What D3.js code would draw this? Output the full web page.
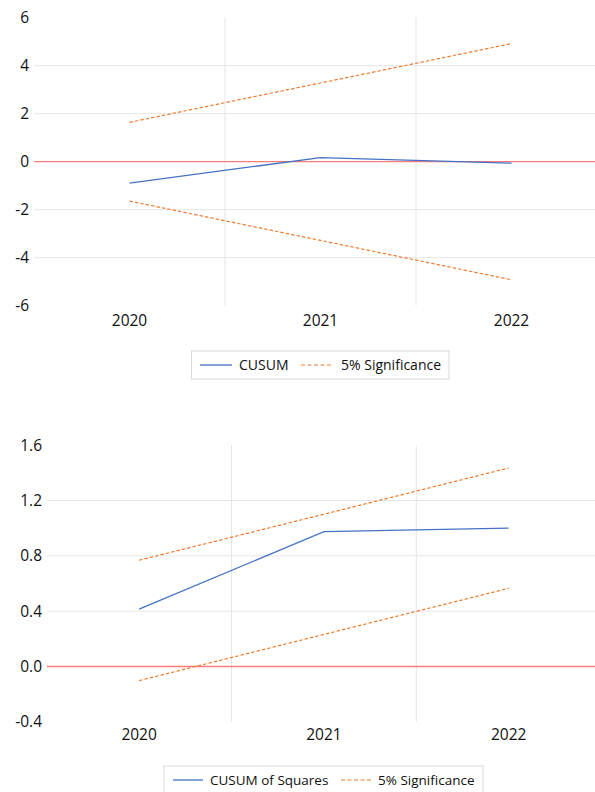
<!DOCTYPE html>
<html>
<head>
<meta charset="utf-8">
<script src="https://cdn.jsdelivr.net/npm/d3@7"></script>
<style>
  html, body { margin: 0; padding: 0; background: #fff; }
  svg { display: block; font-family: "Open Sans", Lato, sans-serif; }
</style>
</head>
<body>
<svg id="chart" width="595" height="792"></svg>
<script>
// ---- data ----
const years = ["2020", "2021", "2022"];
const cusum = [-0.89, 0.17, -0.06];
const cusumUpper = [1.64, 3.28, 4.92];
const cusumLower = [-1.64, -3.28, -4.92];
const cusumTicks = [-6, -4, -2, 0, 2, 4, 6];

const cusumSq = [0.415, 0.975, 1.0];
const sqUpper = [0.768, 1.101, 1.435];
const sqLower = [-0.102, 0.232, 0.565];
const sqTicks = [-0.4, 0.0, 0.4, 0.8, 1.2, 1.6];

const seriesNames1 = ["CUSUM", "5% Significance"];
const seriesNames2 = ["CUSUM of Squares", "5% Significance"];

const BLUE = "#4472C4", ORANGE = "#ED7D31", RED = "#FF7B7B", GRID = "#E6E6E6", TXT = "#111";

const svg = d3.select("#chart");
const hyphen = f => d => f(d).replace("\u2212", "-");

function panel(cfg) {
  const g = svg.append("g");
  const x = d3.scaleBand().domain(years).range([cfg.left, cfg.right]).padding(0);
  const y = d3.scaleLinear().domain(cfg.domain).range([cfg.bottom, cfg.top]);

  // horizontal gridlines (inner ticks only)
  g.append("g").selectAll("line")
    .data(cfg.ticks.filter(t => t !== cfg.domain[0] && t !== cfg.domain[1] && t !== 0))
    .join("line")
    .attr("x1", cfg.left).attr("x2", 595)
    .attr("y1", d => y(d)).attr("y2", d => y(d))
    .attr("stroke", GRID).attr("stroke-width", 1);

  // vertical gridlines between categories
  g.append("g").selectAll("line")
    .data(years.slice(1))
    .join("line")
    .attr("x1", d => x(d)).attr("x2", d => x(d))
    .attr("y1", cfg.top).attr("y2", cfg.bottom)
    .attr("stroke", GRID).attr("stroke-width", 1);

  // y axis labels
  const yAxis = d3.axisLeft(y).tickValues(cfg.ticks).tickFormat(hyphen(cfg.fmt)).tickSize(0).tickPadding(0);
  const ya = g.append("g").attr("transform", `translate(${cfg.labelX},0)`).call(yAxis);
  ya.select(".domain").remove();
  ya.selectAll("text").attr("font-size", 15.5).attr("fill", TXT)
    .attr("font-family", "'Open Sans', Lato, sans-serif");

  // x axis labels
  const xAxis = d3.axisBottom(x).tickSize(0).tickPadding(0);
  const xa = g.append("g").attr("transform", `translate(0,${cfg.xLabelY})`).call(xAxis);
  xa.select(".domain").remove();
  xa.selectAll("text").attr("font-size", 15.5).attr("fill", TXT).attr("dy", "0.35em")
    .attr("font-family", "'Open Sans', Lato, sans-serif");

  // zero line
  g.append("line")
    .attr("x1", cfg.left).attr("x2", 595)
    .attr("y1", y(0)).attr("y2", y(0))
    .attr("stroke", RED).attr("stroke-width", 1.3);

  const line = d3.line().x((d, i) => x(years[i]) + x.bandwidth() / 2).y(d => y(d));

  [cfg.upper, cfg.lower].forEach(s => {
    g.append("path").datum(s).attr("d", line)
      .attr("fill", "none").attr("stroke", ORANGE).attr("stroke-width", 1.2)
      .attr("stroke-dasharray", "3.5,2");
  });
  g.append("path").datum(cfg.main).attr("d", line)
    .attr("fill", "none").attr("stroke", BLUE).attr("stroke-width", 1.3);

  // legend
  const L = cfg.legend;
  const lg = g.append("g");
  lg.append("rect").attr("x", L.x).attr("y", L.y).attr("width", L.w).attr("height", L.h)
    .attr("fill", "#fff").attr("stroke", "#D9D9D9").attr("stroke-width", 1);
  const cy = L.y + L.h / 2;
  lg.append("line").attr("x1", L.s1[0]).attr("x2", L.s1[1]).attr("y1", cy).attr("y2", cy)
    .attr("stroke", BLUE).attr("stroke-width", 1.3);
  lg.append("text").attr("x", L.t1).attr("y", cy).attr("dy", "0.35em")
    .attr("font-size", L.fs).attr("fill", TXT).text(cfg.names[0]);
  lg.append("line").attr("x1", L.s2[0]).attr("x2", L.s2[1]).attr("y1", cy).attr("y2", cy)
    .attr("stroke", ORANGE).attr("stroke-width", 1.2).attr("stroke-dasharray", "4,2.5");
  lg.append("text").attr("x", L.t2).attr("y", cy).attr("dy", "0.35em")
    .attr("font-size", L.fs).attr("fill", TXT).text(cfg.names[1]);
}

panel({
  left: 34, right: 607, top: 17.7, bottom: 305.7,
  domain: [-6, 6], ticks: cusumTicks, fmt: d3.format("d"),
  labelX: 29, xLabelY: 321,
  main: cusum, upper: cusumUpper, lower: cusumLower, names: seriesNames1,
  legend: { x: 191.5, y: 351, w: 257.5, h: 28, s1: [200, 232], t1: 239, s2: [301, 333], t2: 341, fs: 14 }
});

panel({
  left: 46.7, right: 601.1, top: 445.2, bottom: 721.8,
  domain: [-0.4, 1.6], ticks: sqTicks, fmt: d3.format(".1f"),
  labelX: 42, xLabelY: 735,
  main: cusumSq, upper: sqUpper, lower: sqLower, names: seriesNames2,
  legend: { x: 164, y: 766, w: 319, h: 28, s1: [173, 203], t1: 210, s2: [341, 371], t2: 378, fs: 13.5 }
});
</script>
</body>
</html>
